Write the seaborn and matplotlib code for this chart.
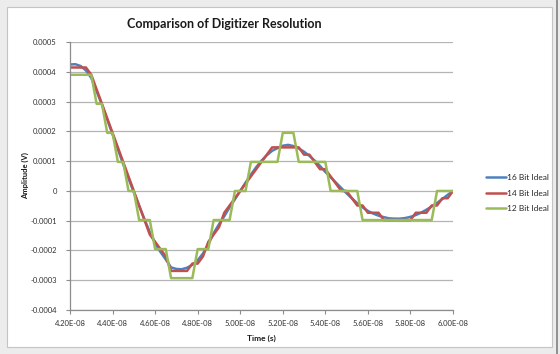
import numpy as np
import pandas as pd
import matplotlib
matplotlib.use("Agg")
import matplotlib.pyplot as plt
import seaborn as sns
from matplotlib.patches import Rectangle
from matplotlib.lines import Line2D
from matplotlib.ticker import FuncFormatter, FixedLocator

# ---------------- data (time in ns, amplitude in units of 1e-4 V) ----------------
time_ns = [42.00, 42.25, 42.50, 42.75, 43.00, 43.25, 43.50, 43.75,
           44.00, 44.25, 44.50, 44.75, 45.00, 45.25, 45.50, 45.75,
           46.00, 46.25, 46.50, 46.75, 47.00, 47.25, 47.50, 47.75,
           48.00, 48.25, 48.50, 48.75, 49.00, 49.25, 49.50, 49.75,
           50.00, 50.25, 50.50, 50.75, 51.00, 51.25, 51.50, 51.75,
           52.00, 52.25, 52.50, 52.75, 53.00, 53.25, 53.50, 53.75,
           54.00, 54.25, 54.50, 54.75, 55.00, 55.25, 55.50, 55.75,
           56.00, 56.25, 56.50, 56.75, 57.00, 57.25, 57.50, 57.75,
           58.00, 58.25, 58.50, 58.75, 59.00, 59.25, 59.50, 59.75,
           60.00]

amp_16bit = [4.25, 4.26, 4.20, 4.05, 3.80, 3.35, 2.90, 2.40,
             1.90, 1.40, 0.90, 0.42, -0.05, -0.50, -0.95, -1.38,
             -1.75, -2.05, -2.30, -2.57, -2.62, -2.63, -2.58, -2.48,
             -2.33, -2.10, -1.80, -1.42, -1.12, -0.85, -0.55, -0.28,
             0.00, 0.28, 0.55, 0.80, 1.02, 1.20, 1.35, 1.44,
             1.52, 1.55, 1.51, 1.43, 1.32, 1.18, 1.02, 0.84,
             0.64, 0.46, 0.28, 0.10, -0.08, -0.25, -0.41, -0.55,
             -0.67, -0.76, -0.83, -0.88, -0.92, -0.93, -0.93, -0.91,
             -0.87, -0.81, -0.73, -0.63, -0.52, -0.40, -0.27, -0.13,
             0.00]

amp_14bit = [4.150, 4.150, 4.150, 4.150, 3.906, 3.418, 2.930, 2.441,
             1.953, 1.465, 0.977, 0.488, 0.000, -0.488, -0.977, -1.465,
             -1.709, -1.953, -2.197, -2.686, -2.686, -2.686, -2.686, -2.441,
             -2.441, -2.197, -1.709, -1.465, -1.221, -0.732, -0.488, -0.244,
             0.000, 0.244, 0.488, 0.732, 0.977, 1.221, 1.465, 1.465,
             1.465, 1.465, 1.465, 1.465, 1.221, 1.221, 0.977, 0.732,
             0.732, 0.488, 0.244, 0.000, 0.000, -0.244, -0.488, -0.488,
             -0.732, -0.732, -0.732, -0.977, -0.977, -0.977, -0.977, -0.977,
             -0.977, -0.732, -0.732, -0.732, -0.488, -0.488, -0.244, -0.244,
             0.000]

amp_12bit = [3.906, 3.906, 3.906, 3.906, 3.906, 2.930, 2.930, 1.953,
             1.953, 0.977, 0.977, 0.000, 0.000, -0.977, -0.977, -0.977,
             -1.953, -1.953, -1.953, -2.930, -2.930, -2.930, -2.930, -2.930,
             -1.953, -1.953, -1.953, -0.977, -0.977, -0.977, -0.977, 0.000,
             0.000, 0.000, 0.977, 0.977, 0.977, 0.977, 0.977, 0.977,
             1.953, 1.953, 1.953, 0.977, 0.977, 0.977, 0.977, 0.977,
             0.977, 0.000, 0.000, 0.000, 0.000, 0.000, 0.000, -0.977,
             -0.977, -0.977, -0.977, -0.977, -0.977, -0.977, -0.977, -0.977,
             -0.977, -0.977, -0.977, -0.977, -0.977, 0.000, 0.000, 0.000,
             0.000]

series_names = ["16 Bit Ideal", "14 Bit Ideal", "12 Bit Ideal"]
series_colors = ["#4F81BD", "#C0504D", "#9BBB59"]

x_ticks_ns = [42, 44, 46, 48, 50, 52, 54, 56, 58, 60]
y_ticks_1e4 = [-4, -3, -2, -1, 0, 1, 2, 3, 4, 5]

# ---------------- build long-form table ----------------
frames = []
for name, vals in zip(series_names, [amp_16bit, amp_14bit, amp_12bit]):
    frames.append(pd.DataFrame({
        "time": np.array(time_ns) * 1e-9,
        "amp": np.array(vals) * 1e-4,
        "series": name,
    }))
df = pd.concat(frames, ignore_index=True)

# ---------------- style ----------------
sns.set_style("white")
plt.rcParams["font.family"] = ["Lato", "DejaVu Sans"]

W, H = 560, 354
fig = plt.figure(figsize=(W / 100, H / 100), dpi=100, facecolor="#ececec")
bg = Rectangle((7 / W, 1 - 347 / H), (552 - 7) / W, (347 - 7) / H,
               transform=fig.transFigure, facecolor="white",
               edgecolor="#c4c4c4", lw=0.8, zorder=-10)
fig.add_artist(bg)
fig.add_artist(Line2D([556.5 / W, 556.5 / W], [0, 1], transform=fig.transFigure,
                      color="#808080", lw=1.2, zorder=-10))

ax = fig.add_axes([70 / W, 1 - 310 / H, (453 - 70) / W, (310 - 42.2) / H])
ax.set_zorder(1)
ax.set_facecolor("white")

sns.lineplot(data=df, x="time", y="amp", hue="series", hue_order=series_names,
             palette=series_colors, estimator=None, sort=False, lw=1.8, ax=ax)
for ln in ax.get_lines():
    ln.set_solid_joinstyle("round")
    ln.set_solid_capstyle("round")

ax.set_xlim(42e-9, 60e-9)
ax.set_ylim(-4e-4, 5e-4)
ax.xaxis.set_major_locator(FixedLocator([v * 1e-9 for v in x_ticks_ns]))
ax.yaxis.set_major_locator(FixedLocator([v * 1e-4 for v in y_ticks_1e4]))
ax.xaxis.set_major_formatter(FuncFormatter(lambda v, p: f"{v:.2E}"))
ax.yaxis.set_major_formatter(FuncFormatter(lambda v, p: "0" if abs(v) < 1e-12 else f"{v:.4f}"))

ax.grid(axis="y", color="#b4b4b4", lw=0.9)
ax.grid(axis="x", visible=False)
ax.set_axisbelow(True)
for s in ["top", "right"]:
    ax.spines[s].set_visible(False)
for s in ["left", "bottom"]:
    ax.spines[s].set_color("#8c8c8c")
    ax.spines[s].set_linewidth(0.9)
ax.tick_params(axis="both", which="major", length=3, width=0.8, color="#8c8c8c",
               labelsize=5.5, labelcolor="#333333")
ax.tick_params(axis="x", direction="out", bottom=True, pad=4)
ax.tick_params(axis="y", direction="out", left=True, pad=6.5)
ax.set_xlabel("")
ax.set_ylabel("")

fig.text(224 / W, 1 - 24 / H, "Comparison of Digitizer Resolution", ha="center",
         va="center", fontsize=9, fontweight="bold", color="#1a1a1a")
fig.text(25 / W, 1 - 176 / H, "Amplitude (V)", ha="center", va="center",
         rotation=90, fontsize=5.5, fontweight="bold", color="#1a1a1a")
fig.text(261 / W, 1 - 338 / H, "Time (s)", ha="center", va="center",
         fontsize=6, fontweight="bold", color="#1a1a1a")

handles, labels = ax.get_legend_handles_labels()
ax.legend(handles, labels, loc="center left", bbox_to_anchor=(482 / W, 1 - 193 / H),
          bbox_transform=fig.transFigure, frameon=False, fontsize=6,
          handlelength=2.4, handletextpad=0.15, labelspacing=1.0, borderpad=0)

fig.savefig("out.png", dpi=100, facecolor=fig.get_facecolor())
